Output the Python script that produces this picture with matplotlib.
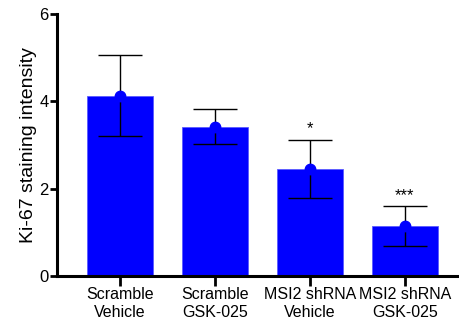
import matplotlib
matplotlib.use("Agg")
import matplotlib.pyplot as plt

categories = ["Scramble\nVehicle", "Scramble\nGSK-025", "MSI2 shRNA\nVehicle", "MSI2 shRNA\nGSK-025"]
means = [4.13, 3.42, 2.46, 1.14]
err_upper = [5.07, 3.82, 3.12, 1.60]
err_lower = [3.20, 3.02, 1.79, 0.70]
stars = ["", "", "*", "***"]
yticks = [0, 2, 4, 6]

plt.rcParams['font.family'] = ['Liberation Sans', 'DejaVu Sans']

fig = plt.figure(figsize=(4.6, 3.26), dpi=100)
ax = fig.add_axes([0.124, 0.153, 0.876, 0.804])

x = list(range(len(categories)))
ax.bar(x, means, width=0.69, color='#0000FF', edgecolor='#5a5aff', linewidth=0.6, zorder=2)
yerr = [[m - lo for m, lo in zip(means, err_lower)], [hi - m for m, hi in zip(means, err_upper)]]
ax.errorbar(x, means, yerr=yerr, fmt='none', ecolor='black', elinewidth=1.0, capsize=16, capthick=1.0, zorder=3)
ax.plot(x, means, 'o', color='#0000FF', markersize=7.5, zorder=4)

for xi, hi, s in zip(x, err_upper, stars):
    if s:
        ax.text(xi, hi + 0.08, s, ha='center', va='bottom', fontsize=12, color='black')

ax.set_xlim(-0.66, 3.58)
ax.set_ylim(0, 6)
ax.set_yticks(yticks)
ax.set_yticklabels([str(t) for t in yticks], fontsize=12)
ax.set_xticks(x)
ax.set_xticklabels(categories, fontsize=11.5, linespacing=1.2)
ax.set_ylabel("Ki-67 staining intensity", fontsize=14, labelpad=2)

for s in ['top', 'right']:
    ax.spines[s].set_visible(False)
for s in ['left', 'bottom']:
    ax.spines[s].set_linewidth(2.2)
ax.tick_params(axis='y', length=5, width=2, pad=1)
ax.tick_params(axis='x', length=7, width=2, pad=1)

fig.savefig("out.png", dpi=100)
